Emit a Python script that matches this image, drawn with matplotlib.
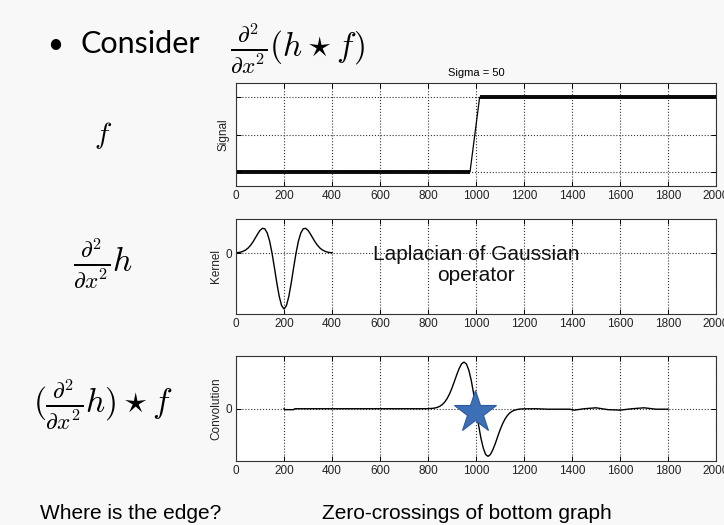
import numpy as np
import matplotlib.pyplot as plt

# step signal (noisy in the original, shown as a band)
sig_x = [0, 975, 1015, 2000]
sig_y = [0.0, 0.0, 1.0, 1.0]
noise_amp = 0.026

# LoG kernel sampled every 10 samples, 0..400
kern_x = list(range(0, 401, 10))
kern_y = [0.005, 0.010, 0.018, 0.033, 0.055, 0.089, 0.136, 0.196, 0.267, 0.342,
          0.406, 0.443, 0.434, 0.360, 0.214, 0.000, -0.261, -0.535, -0.775, -0.941,
          -1.000,
          -0.941, -0.775, -0.535, -0.261, 0.000, 0.214, 0.360, 0.434, 0.443, 0.406,
          0.342, 0.267, 0.196, 0.136, 0.089, 0.055, 0.033, 0.018, 0.010, 0.005]

# convolution result (valid part 200..1800)
conv_x = [200, 205, 215, 240, 245, 790,
          800, 810, 820, 830, 840, 850, 860, 870, 880, 890,
          900, 910, 920, 930, 940, 950, 960, 970, 980, 990,
          1000, 1010, 1020, 1030, 1040, 1050, 1060, 1070, 1080, 1090,
          1100, 1110, 1120, 1130, 1140, 1150, 1160, 1170, 1180, 1190,
          1200, 1250, 1300, 1350, 1390, 1410, 1450, 1500, 1550, 1600,
          1650, 1700, 1750, 1800]
conv_y = [0.0, -0.02, -0.02, -0.02, 0.0, 0.0,
          0.002, 0.005, 0.009, 0.017, 0.032, 0.055, 0.092, 0.146, 0.222, 0.323,
          0.446, 0.587, 0.733, 0.866, 0.963, 1.0, 0.958, 0.826, 0.609, 0.323,
          0.0, -0.33, -0.62, -0.84, -0.98, -1.02, -0.98, -0.88, -0.75, -0.60,
          -0.455, -0.33, -0.227, -0.149, -0.093, -0.056, -0.032, -0.018, -0.009, -0.005,
          -0.002, 0.0, -0.01, -0.01, -0.01, -0.03, 0.0, 0.02, -0.02, -0.03,
          0.0, 0.02, -0.01, -0.01]

edge_x = 996
edge_y = -0.075

x_ticks = [0, 200, 400, 600, 800, 1000, 1200, 1400, 1600, 1800, 2000]

plt.rcParams['font.family'] = ['Liberation Sans', 'DejaVu Sans']
plt.rcParams['mathtext.fontset'] = 'cm'

BG = '#f8f8f8'
fig = plt.figure(figsize=(7.24, 5.25), dpi=100, facecolor=BG)


def style_axes(ax, yticks, ylabels, ylabel):
    ax.set_xlim(0, 2000)
    ax.set_xticks(x_ticks)
    ax.set_xticklabels([str(t) for t in x_ticks], fontsize=8.5, color='#222222')
    ax.set_yticks(yticks)
    ax.set_yticklabels(ylabels, fontsize=8.5, color='#222222')
    ax.tick_params(direction='in', length=3.5, width=0.7, top=True, right=True, pad=3)
    ax.grid(True, linestyle=':', color='#333333', linewidth=0.8)
    ax.set_ylabel(ylabel, fontsize=8.5, color='#222222', labelpad=2)
    for sp in ax.spines.values():
        sp.set_linewidth(0.8)
        sp.set_color('#333333')


# --- signal
ax1 = fig.add_axes([0.326, 0.6457, 0.663, 0.196])
ax1.plot(sig_x, sig_y, color='black', lw=0.9)
ax1.fill_between(sig_x[:2], [v - noise_amp for v in sig_y[:2]],
                 [v + noise_amp for v in sig_y[:2]], color='#111111', lw=0)
ax1.fill_between(sig_x[2:], [v - noise_amp for v in sig_y[2:]],
                 [v + noise_amp for v in sig_y[2:]], color='#111111', lw=0)
ax1.set_ylim(-0.19, 1.19)
style_axes(ax1, [0, 0.5, 1], ['', '', ''], 'Signal')
ax1.set_title('Sigma = 50', fontsize=8, pad=5)

# --- kernel
ax2 = fig.add_axes([0.326, 0.4019, 0.663, 0.181])
ax2.plot(kern_x, kern_y, color='black', lw=1.0)
ax2.set_ylim(-1.09, 0.61)
style_axes(ax2, [0], ['0'], 'Kernel')
ax2.text(1000, -0.21, 'Laplacian of Gaussian\noperator', fontsize=15,
         ha='center', va='center', linespacing=1.1, color='#111111')

# --- convolution
ax3 = fig.add_axes([0.326, 0.1219, 0.663, 0.2])
ax3.plot(conv_x, conv_y, color='black', lw=1.0)
ax3.set_ylim(-1.12, 1.13)
style_axes(ax3, [0], ['0'], 'Convolution')
ax3.plot([edge_x], [edge_y], marker='*', markersize=32, color='#3d6fb6',
         markeredgecolor='#2c5a9c', markeredgewidth=0.8, zorder=5)

# --- slide text
fig.text(55 / 724, 1 - 53 / 525, '\u2022', fontsize=20, family='Lato', va='baseline', ha='center')
fig.text(80 / 724, 1 - 53 / 525, 'Consider', fontsize=22, family='Lato', va='baseline')
fig.text(230 / 724, 1 - 57 / 525, r'$\frac{\partial^2}{\partial x^2}(h \star f)$',
         fontsize=24, va='baseline')

fig.text(103 / 724, 1 - 143 / 525, r'$f$', fontsize=21, ha='center', va='baseline')
fig.text(103 / 724, 1 - 272 / 525, r'$\frac{\partial^2}{\partial x^2}h$', fontsize=24,
         ha='center', va='baseline')
fig.text(103 / 724, 1 - 413 / 525, r'$(\frac{\partial^2}{\partial x^2}h) \star f$',
         fontsize=24, ha='center', va='baseline')

fig.text(40 / 724, 1 - 519 / 525, 'Where is the edge?', fontsize=15, va='baseline')
fig.text(322 / 724, 1 - 519 / 525, 'Zero-crossings of bottom graph', fontsize=15, va='baseline')

fig.savefig('out.png', dpi=100, facecolor=BG)
